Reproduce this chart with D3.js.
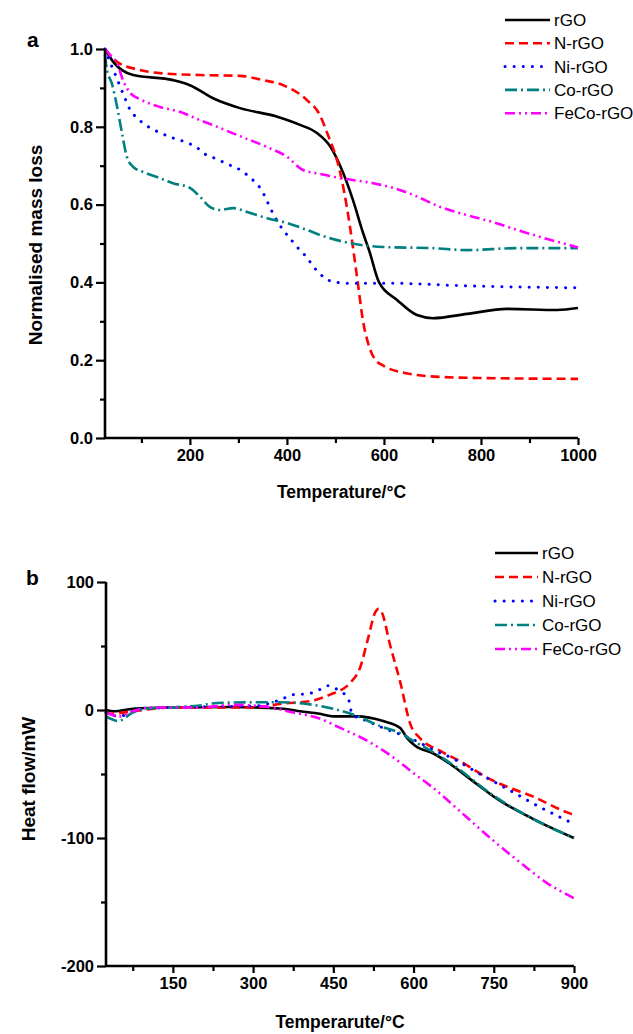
<!DOCTYPE html>
<html>
<head>
<meta charset="utf-8">
<script src="https://cdn.jsdelivr.net/npm/d3@7"></script>
<style>
    body { margin: 0; background: #fff; }
    text { font-family: "Liberation Sans", Arial, sans-serif; }
</style>
</head>
<body>
<script>
// Series names, colours and dash styles (shared by both panels)
const seriesNames = ["rGO", "N-rGO", "Ni-rGO", "Co-rGO", "FeCo-rGO"];
const seriesColors = ["#000000", "#ff0000", "#0000ff", "#008080", "#ff00ff"];
const seriesDash = [null, "9,5", "0.1,9", "12,4,2,4", "10,4,2,4,2,4"];

// Panel a: TGA, [temperature, normalised mass]
const tgaRGO = [[25, 1.0], [42, 0.967], [83, 0.933], [165, 0.92], [200, 0.907], [250, 0.872], [303, 0.848],
    [380, 0.826], [427, 0.805], [462, 0.784], [489, 0.75], [516, 0.681], [536, 0.612], [557, 0.527],
    [570, 0.48], [590, 0.40], [627, 0.355], [668, 0.316], [701, 0.308], [771, 0.319], [854, 0.332],
    [957, 0.329], [1000, 0.334]];
const tgaNRGO = [[25, 1.0], [50, 0.967], [97, 0.946], [138, 0.938], [221, 0.933], [303, 0.931], [351, 0.92],
    [392, 0.907], [441, 0.869], [468, 0.83], [483, 0.784], [510, 0.681], [524, 0.59], [535, 0.5],
    [546, 0.40], [557, 0.30], [567, 0.245], [580, 0.205], [600, 0.185], [633, 0.17], [715, 0.157],
    [812, 0.154], [1000, 0.152]];
const tgaNiRGO = [[25, 1.0], [35, 0.967], [45, 0.938], [66, 0.874], [77, 0.843], [91, 0.823], [112, 0.802],
    [134, 0.787], [159, 0.774], [190, 0.761], [215, 0.746], [231, 0.73], [256, 0.717], [277, 0.704],
    [297, 0.694], [318, 0.676], [334, 0.658], [349, 0.635], [359, 0.609], [371, 0.578], [392, 0.535],
    [406, 0.514], [421, 0.491], [437, 0.47], [464, 0.427], [489, 0.404], [524, 0.398], [606, 0.398],
    [771, 0.391], [1000, 0.386]];
const tgaCoRGO = [[25, 0.985], [29, 0.946], [39, 0.912], [50, 0.851], [60, 0.784], [70, 0.723], [83, 0.697],
    [103, 0.684], [132, 0.671], [165, 0.655], [200, 0.643], [221, 0.62], [241, 0.594], [262, 0.586],
    [289, 0.591], [318, 0.581], [359, 0.565], [400, 0.553], [441, 0.535], [468, 0.522], [530, 0.501],
    [598, 0.491], [701, 0.488], [771, 0.483], [874, 0.488], [1000, 0.488]];
const tgaFeCoRGO = [[25, 1.0], [35, 0.985], [50, 0.964], [62, 0.92], [77, 0.887], [97, 0.871], [138, 0.851],
    [180, 0.838], [221, 0.817], [262, 0.797], [303, 0.776], [359, 0.748], [400, 0.723], [433, 0.689],
    [468, 0.679], [510, 0.668], [578, 0.655], [619, 0.643], [660, 0.625], [716, 0.594], [771, 0.573],
    [825, 0.555], [874, 0.535], [922, 0.517], [1000, 0.49]];

// Panel b: DSC, [temperature, heat flow mW]
const dscRGO = [[25, 0], [40, -1], [75, 1], [139, 2], [262, 2.3], [356, 1], [388, -1], [425, -3], [450, -5],
    [494, -5], [543, -8.6], [575, -14], [588, -22], [603, -28], [637, -34], [668, -42], [706, -54],
    [762, -71], [823, -85], [900, -100]];
const dscNRGO = [[25, -1], [32, -3], [75, -1], [150, 2], [300, 2], [356, 5], [407, 7], [444, 12], [481, 21],
    [500, 33], [515, 56], [528, 76], [535, 79], [541, 76], [556, 51], [575, 22], [594, -11], [612, -22],
    [650, -32], [687, -40], [743, -54], [775, -60], [820, -67], [887, -80], [900, -82]];
const dscNiRGO = [[25, -2], [50, -5], [75, -1], [98, 1], [200, 2.5], [300, 3], [351, 8], [375, 12],
    [400, 12.5], [420, 15], [440, 19], [461, 15], [478, 9], [485, -3], [513, -8.6], [543, -14],
    [599, -23], [637, -31], [674, -38], [724, -50], [781, -63], [837, -76], [880, -85], [900, -89]];
const dscCoRGO = [[25, -5], [48, -8.6], [75, -2], [98, 1], [150, 2], [200, 3.5], [233, 5.5], [300, 6],
    [351, 6], [400, 4.7], [450, 1], [494, -4.7], [537, -12.5], [575, -18], [599, -24], [637, -33],
    [681, -45], [743, -65], [823, -85], [900, -100]];
const dscFeCoRGO = [[25, -2], [50, -5], [75, -1], [107, 2], [201, 2], [262, 4], [325, 2.5], [375, -2],
    [406, -4.5], [420, -6], [463, -14], [513, -24], [562, -37], [599, -49], [637, -61], [700, -84],
    [749, -102], [799, -119], [849, -135], [900, -147]];

// Tick values
const tgaXTicks = [200, 400, 600, 800, 1000];
const tgaXMinor = [100, 300, 500, 700, 900];
const tgaYTicks = [0, 0.2, 0.4, 0.6, 0.8, 1.0];
const tgaYMinor = [0.1, 0.3, 0.5, 0.7, 0.9];
const dscXTicks = [150, 300, 450, 600, 750, 900];
const dscXMinor = [75, 225, 375, 525, 675, 825];
const dscYTicks = [-200, -100, 0, 100];
const dscYMinor = [-150, -50, 50];

const svg = d3.select("body").append("svg")
    .attr("width", 633)
    .attr("height", 1034);

/**
 * Draw one panel: axes, curves, legend and labels.
 */
function drawPanel(p) {
    const x = d3.scaleLinear().domain(p.xDomain).range([p.left, p.right]);
    const y = d3.scaleLinear().domain(p.yDomain).range([p.bottom, p.top]);
    const g = svg.append("g");

    // curves
    const line = d3.line()
        .x(d => x(d[0]))
        .y(d => y(d[1]))
        .curve(d3.curveMonotoneX);
    p.series.forEach((s, i) => {
        g.append("path")
            .datum(s)
            .attr("fill", "none")
            .attr("stroke", seriesColors[i])
            .attr("stroke-width", i === 2 ? 3 : 2.6)
            .attr("stroke-linecap", i === 2 ? "round" : "butt")
            .attr("stroke-dasharray", seriesDash[i])
            .attr("d", line);
    });

    // x axis, major and minor ticks
    const xAxis = g.append("g")
        .attr("transform", `translate(0,${p.bottom})`)
        .call(d3.axisBottom(x).tickValues(p.xTicks).tickSize(7).tickPadding(4).tickFormat(d3.format("d")));
    g.append("g")
        .attr("transform", `translate(0,${p.bottom})`)
        .call(d3.axisBottom(x).tickValues(p.xMinor).tickSize(5).tickFormat(""))
        .select(".domain").remove();

    // y axis, major and minor ticks
    const yAxis = g.append("g")
        .attr("transform", `translate(${p.left},0)`)
        .call(d3.axisLeft(y).tickValues(p.yTicks).tickSize(9).tickPadding(3).tickFormat(p.yFormat));
    g.append("g")
        .attr("transform", `translate(${p.left},0)`)
        .call(d3.axisLeft(y).tickValues(p.yMinor).tickSize(5).tickFormat(""))
        .select(".domain").remove();

    g.selectAll(".domain").attr("stroke-width", 2.6).attr("d", null);
    xAxis.select(".domain").attr("d", `M${p.left},0H${p.right}`);
    yAxis.select(".domain").attr("d", `M0,${p.top}V${p.bottom}`);
    g.selectAll(".tick line").attr("stroke-width", 2.2);
    g.selectAll(".tick text")
        .attr("font-size", 16.5)
        .attr("font-weight", "bold")
        .attr("fill", "#000");

    // axis titles
    g.append("text")
        .attr("x", (p.left + p.right) / 2)
        .attr("y", p.xTitleY)
        .attr("text-anchor", "middle")
        .attr("font-size", 17.5)
        .attr("font-weight", "bold")
        .text(p.xTitle);
    g.append("text")
        .attr("transform", `translate(${p.yTitleX},${p.yTitleCY}) rotate(-90)`)
        .attr("text-anchor", "middle")
        .attr("font-size", 19)
        .attr("font-weight", "bold")
        .text(p.yTitle);

    // panel letter
    g.append("text")
        .attr("x", p.letterX)
        .attr("y", p.letterY)
        .attr("font-size", 21)
        .attr("font-weight", "bold")
        .text(p.letter);

    // legend
    const legend = g.append("g")
        .attr("transform", `translate(${p.legendX},${p.legendY})`);
    seriesNames.forEach((name, i) => {
        const row = legend.append("g").attr("transform", `translate(0,${i * p.legendStep})`);
        row.append("line")
            .attr("x1", 0).attr("x2", p.legendLen)
            .attr("stroke", seriesColors[i])
            .attr("stroke-width", i === 2 ? 3 : 2.6)
            .attr("stroke-linecap", i === 2 ? "round" : "butt")
            .attr("stroke-dasharray", seriesDash[i]);
        row.append("text")
            .attr("x", p.legendLen + 4)
            .attr("y", 6)
            .attr("font-size", 17)
            .text(name);
    });
}

drawPanel({
    xDomain: [25, 1000], yDomain: [0, 1],
    left: 105, right: 578, top: 49, bottom: 438,
    series: [tgaRGO, tgaNRGO, tgaNiRGO, tgaCoRGO, tgaFeCoRGO],
    xTicks: tgaXTicks, xMinor: tgaXMinor, yTicks: tgaYTicks, yMinor: tgaYMinor,
    yFormat: d3.format(".1f"),
    xTitle: "Temperature/°C", xTitleY: 498,
    yTitle: "Normalised mass loss", yTitleX: 42, yTitleCY: 245,
    letter: "a", letterX: 27, letterY: 47,
    legendX: 505, legendY: 20, legendStep: 23.3, legendLen: 45
});

drawPanel({
    xDomain: [25, 900], yDomain: [-200, 100],
    left: 106, right: 574, top: 582, bottom: 966,
    series: [dscRGO, dscNRGO, dscNiRGO, dscCoRGO, dscFeCoRGO],
    xTicks: dscXTicks, xMinor: dscXMinor, yTicks: dscYTicks, yMinor: dscYMinor,
    yFormat: d => String(d),
    xTitle: "Temperarute/°C", xTitleY: 1028,
    yTitle: "Heat flow/mW", yTitleX: 35, yTitleCY: 779,
    letter: "b", letterX: 26, letterY: 585,
    legendX: 495, legendY: 553, legendStep: 24, legendLen: 43
});
</script>
</body>
</html>
